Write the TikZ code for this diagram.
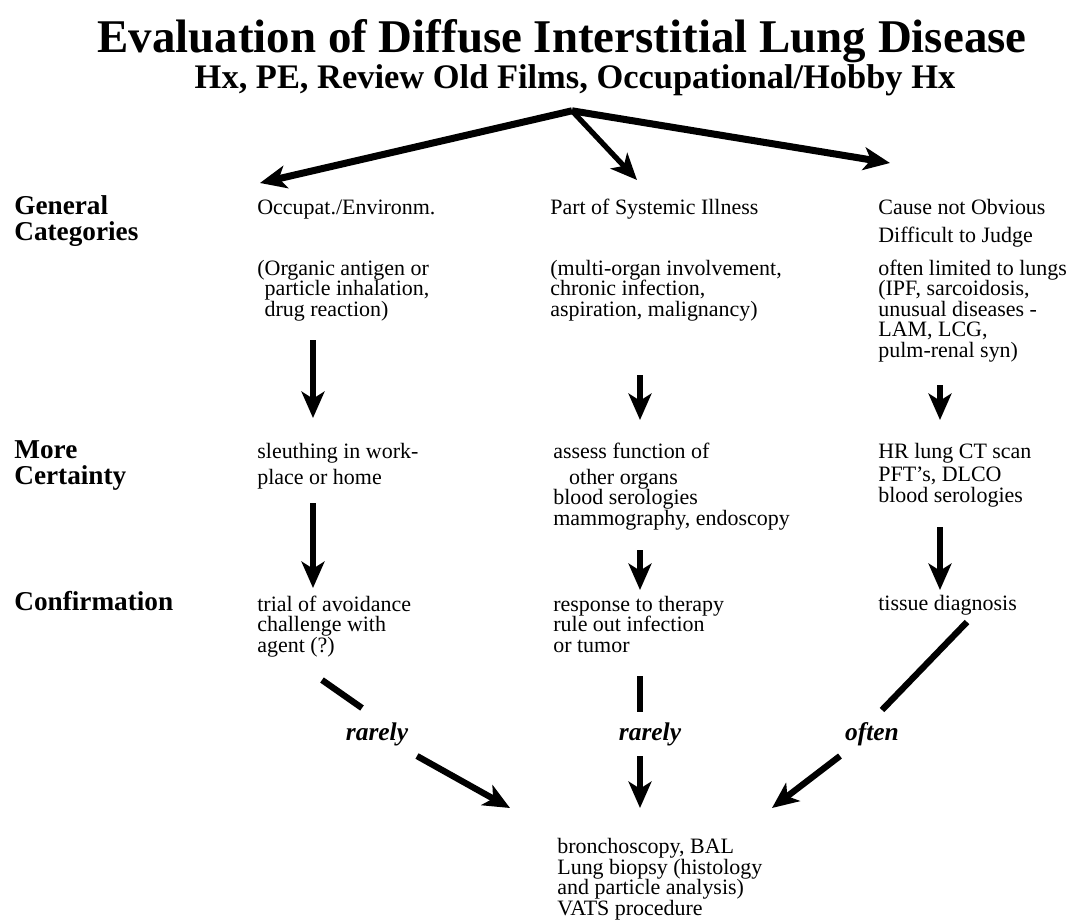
\documentclass[tikz,border=0pt]{standalone}
\usepackage{fontspec}
\setmainfont{Liberation Serif}
\usetikzlibrary{arrows.meta, positioning, calc}
\tikzset{
    % title lines
    titleText/.style={font=\fontsize{26.7}{30}\selectfont\bfseries, inner sep=0pt},
    subText/.style={font=\fontsize{19.6}{22}\selectfont\bfseries, inner sep=0pt},
    % row labels on the left
    rowLabel/.style={font=\fontsize{15.5}{14.4}\selectfont\bfseries, align=left, anchor=base west, inner sep=0pt},
    % text of the three columns (base = last line)
    cell/.style={font=\fontsize{12.5}{11.6}\selectfont, align=left, anchor=base west, inner sep=0pt},
    freqText/.style={font=\fontsize{14.5}{14.5}\selectfont\bfseries\itshape, inner sep=0pt},
    flow/.style={line width=3.6pt, -{Stealth[length=15pt, width=13pt, inset=4pt]}},
    link/.style={line width=3.6pt}
}
\begin{document}
\begin{tikzpicture}[x=0.02cm, y=-0.02cm]
    \useasboundingbox (0,0) rectangle (1083,921);

    % ---- title ----
    \node [titleText, anchor=base] (title) at (562,52) {Evaluation of Diffuse Interstitial Lung Disease};
    \node [subText, anchor=base] (hist) at (575,88) {Hx, PE, Review Old Films, Occupational/Hobby Hx};
    \coordinate (fork) at ($(hist.south)+(-3,15)$);

    % ---- row labels ----
    \node [rowLabel] (rowGen) at (14,240) {General\\Categories};
    \node [rowLabel] (rowMore) at (14,484) {More\\Certainty};
    \node [rowLabel] (rowConf) at (14,610) {Confirmation};

    % ---- column 1: occupational ----
    \node [cell] (occ) at (257,214) {Occupat./Environm.};
    \node [cell] (organic) at (257,316) {(Organic antigen or\\\phantom{(}particle inhalation,\\\phantom{(}drug reaction)};
    \node [cell] (sleuth) at (257,484) {sleuthing in work-\\[3pt]place or home};
    \node [cell] (avoid) at (257,652) {trial of avoidance\\challenge with\\agent (?)};

    % ---- column 2: systemic ----
    \node [cell] (sys) at (550,214) {Part of Systemic Illness};
    \node [cell] (multi) at (550,316) {(multi-organ involvement,\\chronic infection,\\aspiration, malignancy)};
    \node [cell] (assess) at (553,525) {assess function of\\[3pt]\hspace*{9pt}other organs\\blood serologies\\mammography, endoscopy};
    \node [cell] (therapy) at (553,652) {response to therapy\\rule out infection\\or tumor};

    % ---- column 3: not obvious ----
    \node [cell] (cause) at (878,242) {Cause not Obvious\\[4pt]Difficult to Judge};
    \node [cell] (lungs) at (878,357) {often limited to lungs\\(IPF, sarcoidosis,\\unusual diseases -\\LAM, LCG,\\pulm-renal syn)};
    \node [cell] (hrct) at (878,502) {HR lung CT scan\\[1.5pt]PFT's, DLCO\\blood serologies};
    \node [cell] (tissue) at (878,610) {tissue diagnosis};

    % ---- final work-up ----
    \node [cell] (biopsy) at (557,915) {bronchoscopy, BAL\\Lung biopsy (histology\\and particle analysis)\\VATS procedure};

    % ---- frequency labels ----
    \node [freqText] (freqOcc) at (377,734) {rarely};
    \node [freqText] (freqSys) at (650,734) {rarely};
    \node [freqText] (freqLung) at (872,734) {often};

    % ---- arrows from the top ----
    \draw [flow, line width=4pt] (fork) -- ($(occ.base west)+(3,-31)$);
    \draw [flow, line width=3pt] (fork) -- ($(sys.base west)+(87,-34)$);
    \draw [flow, line width=4pt] (fork) -- ($(cause.base west)+(12,-79)$);

    % ---- column arrows ----
    \draw [flow] ($(organic.base west)+(56,24)$) -- ($(sleuth.base west)+(56,-66)$);
    \draw [flow] ($(sleuth.base west)+(56,19)$) -- ($(avoid.base west)+(56,-64)$);
    \draw [flow] ($(multi.base west)+(90,59)$) -- ($(assess.base west)+(87,-105)$);
    \draw [flow] ($(assess.base west)+(87,25)$) -- ($(therapy.base west)+(87,-62)$);
    \draw [flow] ($(lungs.base west)+(62,28)$) -- ($(hrct.base west)+(62,-82)$);
    \draw [flow] ($(hrct.base west)+(62,25)$) -- ($(tissue.base west)+(62,-20)$);

    % ---- arrows to the work-up ----
    \draw [link] ($(avoid.base west)+(65,28)$) -- ($(freqOcc.center)+(-15,-26)$);
    \draw [flow] ($(freqOcc.center)+(40,22)$) -- ($(biopsy.base west)+(-47,-107)$);
    \draw [link] ($(therapy.base west)+(87,24)$) -- ($(freqSys.center)+(-10,-22)$);
    \draw [flow] ($(freqSys.center)+(-10,22)$) -- ($(biopsy.base west)+(83,-107)$);
    \draw [link] ($(tissue.base west)+(89,12)$) -- ($(freqLung.center)+(10,-24)$);
    \draw [flow] ($(freqLung.center)+(-32,22)$) -- ($(biopsy.base west)+(215,-107)$);
\end{tikzpicture}
\end{document}
